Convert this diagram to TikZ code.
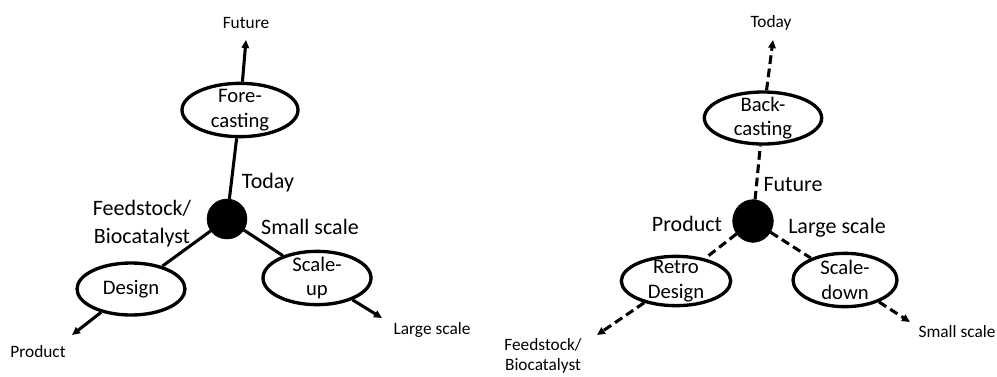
\documentclass[tikz,border=0pt]{standalone}
\usepackage{fontspec}
\setmainfont{Carlito}
\usetikzlibrary{arrows.meta,shapes.geometric}

\begin{document}
\begin{tikzpicture}[
    x=0.75pt, y=-0.75pt,
    link/.style={line width=2.3pt},
    flow/.style={link, -{Triangle[length=6pt,width=5.5pt]}},
    back/.style={dash pattern=on 6.5pt off 3.5pt},
    hub/.style={circle, fill=black, draw=black, minimum size=30pt, inner sep=0pt},
    phase/.style={
        ellipse,
        draw=black,
        fill=white,
        line width=2.5pt,
        inner xsep=0pt,
        inner ysep=-3pt,
        align=center,
        font=\fontsize{15.5}{18.5}\selectfont
    },
    biglbl/.style={font=\fontsize{16.5}{21}\selectfont, align=center},
    endlbl/.style={font=\fontsize{13}{15.5}\selectfont, align=center}
]
\useasboundingbox (0,0) rectangle (997,376);

% Forward route: from feedstock to product
\node[hub] (fwdhub) at (227,219) {};
\node[phase, minimum width=87pt, minimum height=40pt] (fore) at (240,110) {Fore-\\casting};
\node[phase, minimum width=81pt, minimum height=39pt] (design) at (131,289) {Design};
\node[phase, minimum width=81pt, minimum height=40pt] (scaleup) at (317,278) {Scale-\\up};

\coordinate (fwdtop) at (246,40);
\coordinate (fwdleft) at (72,335);
\coordinate (fwdright) at (382,318);

\draw[link] (fwdhub) -- (fore);
\draw[link] (fwdhub) -- (design);
\draw[link] (fwdhub) -- (scaleup);
\draw[flow] (fore) -- (fwdtop);
\draw[flow] (design) -- (fwdleft);
\draw[flow] (scaleup) -- (fwdright);

\node[endlbl] (fwdfuture) at (246,23) {Future};
\node[biglbl] (fwdtoday) at (268,183) {Today};
\node[biglbl] (fwdfeed) at (142,224) {Feedstock/\\Biocatalyst};
\node[biglbl] (fwdsmall) at (310,227) {Small scale};
\node[endlbl] (fwdproduct) at (38,352) {Product};
\node[endlbl] (fwdlarge) at (432,330) {Large scale};

% Backward route: from product back to feedstock (dashed)
\node[hub, minimum width=30.5pt, minimum height=32pt, ellipse] (bwdhub) at (753,221) {};
\node[phase, minimum width=88pt, minimum height=39pt] (backc) at (763,118) {Back-\\casting};
\node[phase, minimum width=82pt, minimum height=37pt] (retro) at (676,281) {Retro\\Design};
\node[phase, minimum width=78pt, minimum height=40pt] (scaledown) at (845,280) {Scale-\\down};

\coordinate (bwdtop) at (773,40);
\coordinate (bwdleft) at (597,335);
\coordinate (bwdright) at (910,322);

\draw[link, back] (bwdhub) -- (backc);
\draw[link, back] (bwdhub) -- (retro);
\draw[link, back] (bwdhub) -- (scaledown);
\draw[flow, back] (backc) -- (bwdtop);
\draw[flow, back] (retro) -- (bwdleft);
\draw[flow, back] (scaledown) -- (bwdright);

\node[endlbl] (bwdtoday) at (771,23) {Today};
\node[biglbl] (bwdfuture) at (793,185) {Future};
\node[biglbl] (bwdproduct) at (687,224) {Product};
\node[biglbl] (bwdlarge) at (837,228) {Large scale};
\node[endlbl] (bwdfeed) at (543,356) {Feedstock/\\Biocatalyst};
\node[endlbl] (bwdsmall) at (957,332) {Small scale};

\end{tikzpicture}
\end{document}
